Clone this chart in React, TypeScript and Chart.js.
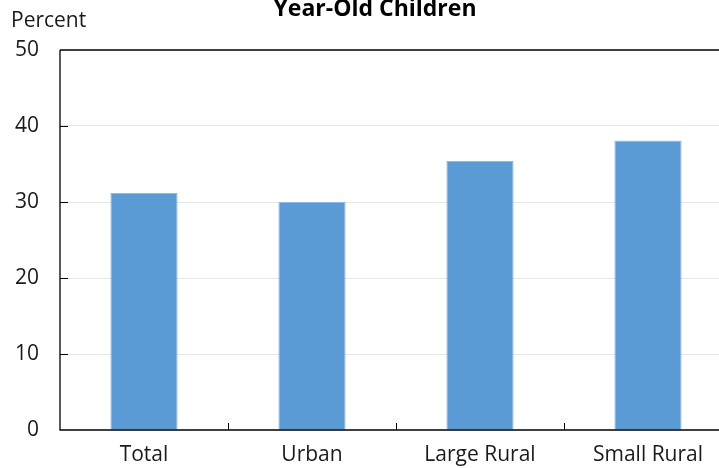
import React, { useEffect, useRef } from "react";
import { Chart, registerables } from "chart.js";

Chart.register(...registerables);

const categories = ["Total", "Urban", "Large Rural", "Small Rural"];
const values = [31.2, 30.0, 35.4, 38.1];
const yTicks = [0, 10, 20, 30, 40, 50];
const titleText = "Year-Old Children";
const yUnitLabel = "Percent";

const FONT = "'Open Sans', sans-serif";
const TEXT = "#1a1a1a";

const framePlugin = {
  id: "frame",
  afterDraw(chart: any) {
    const ctx = chart.ctx;
    const { left, right, top, bottom } = chart.chartArea;
    const x = chart.scales.x;
    const y = chart.scales.y;
    ctx.save();
    ctx.strokeStyle = "#000";
    ctx.lineWidth = 1.3;
    ctx.beginPath();
    ctx.moveTo(left, top);
    ctx.lineTo(right, top);
    ctx.moveTo(left, top);
    ctx.lineTo(left, bottom);
    ctx.lineTo(right, bottom);
    ctx.stroke();
    ctx.lineWidth = 1;
    ctx.beginPath();
    yTicks.forEach((v) => {
      if (v === yTicks[0] || v === yTicks[yTicks.length - 1]) return;
      const py = Math.round(y.getPixelForValue(v)) + 0.5;
      ctx.moveTo(left, py);
      ctx.lineTo(left + 8, py);
    });
    for (let i = 1; i < categories.length; i++) {
      const px = Math.round((x.getPixelForValue(i - 1) + x.getPixelForValue(i)) / 2) + 0.5;
      ctx.moveTo(px, bottom);
      ctx.lineTo(px, bottom - 7);
    }
    ctx.stroke();
    ctx.fillStyle = TEXT;
    ctx.font = `21px ${FONT}`;
    ctx.textAlign = "left";
    ctx.textBaseline = "alphabetic";
    ctx.fillText(yUnitLabel, 11, 27);
    ctx.fillStyle = "#000";
    ctx.font = `bold 23px ${FONT}`;
    ctx.textAlign = "center";
    ctx.fillText(titleText, 375, 16);
    ctx.restore();
  },
};

export default function App() {
  const ref = useRef<HTMLCanvasElement>(null);
  useEffect(() => {
    if (!ref.current) return;
    const chart = new Chart(ref.current, {
      type: "bar",
      data: {
        labels: categories,
        datasets: [
          {
            data: values,
            backgroundColor: "#5B9BD5",
            borderColor: "#8FBBE4",
            borderWidth: 1,
            barPercentage: 0.4,
            categoryPercentage: 1,
          },
        ],
      },
      options: {
        responsive: false,
        animation: false,
        layout: { padding: { top: 50, right: 8, left: 0, bottom: 0 } },
        plugins: { legend: { display: false }, title: { display: false }, tooltip: { enabled: false } },
        scales: {
          x: {
            grid: { display: false, drawTicks: false },
            border: { display: false },
            ticks: { color: TEXT, font: { family: FONT, size: 21 }, padding: 12, maxRotation: 0 },
            afterFit: (s: any) => {
              s.height = 38;
            },
          },
          y: {
            min: 0,
            max: 50,
            ticks: { stepSize: 10, color: TEXT, font: { family: FONT, size: 21 }, padding: 21 },
            grid: {
              drawTicks: false,
              color: (c: any) => (c.tick && (c.tick.value === 0 || c.tick.value === 50) ? "rgba(0,0,0,0)" : "#E8E8E8"),
              lineWidth: 1,
            },
            border: { display: false },
            afterFit: (s: any) => {
              s.width = 60;
            },
          },
        },
      },
      plugins: [framePlugin],
    });
    return () => chart.destroy();
  }, []);
  return (
    <div style={{ position: "fixed", left: 0, top: 0, width: 719, height: 468, overflow: "hidden", background: "#fff" }}>
      <canvas ref={ref} width={740} height={468} style={{ display: "block" }} />
    </div>
  );
}
